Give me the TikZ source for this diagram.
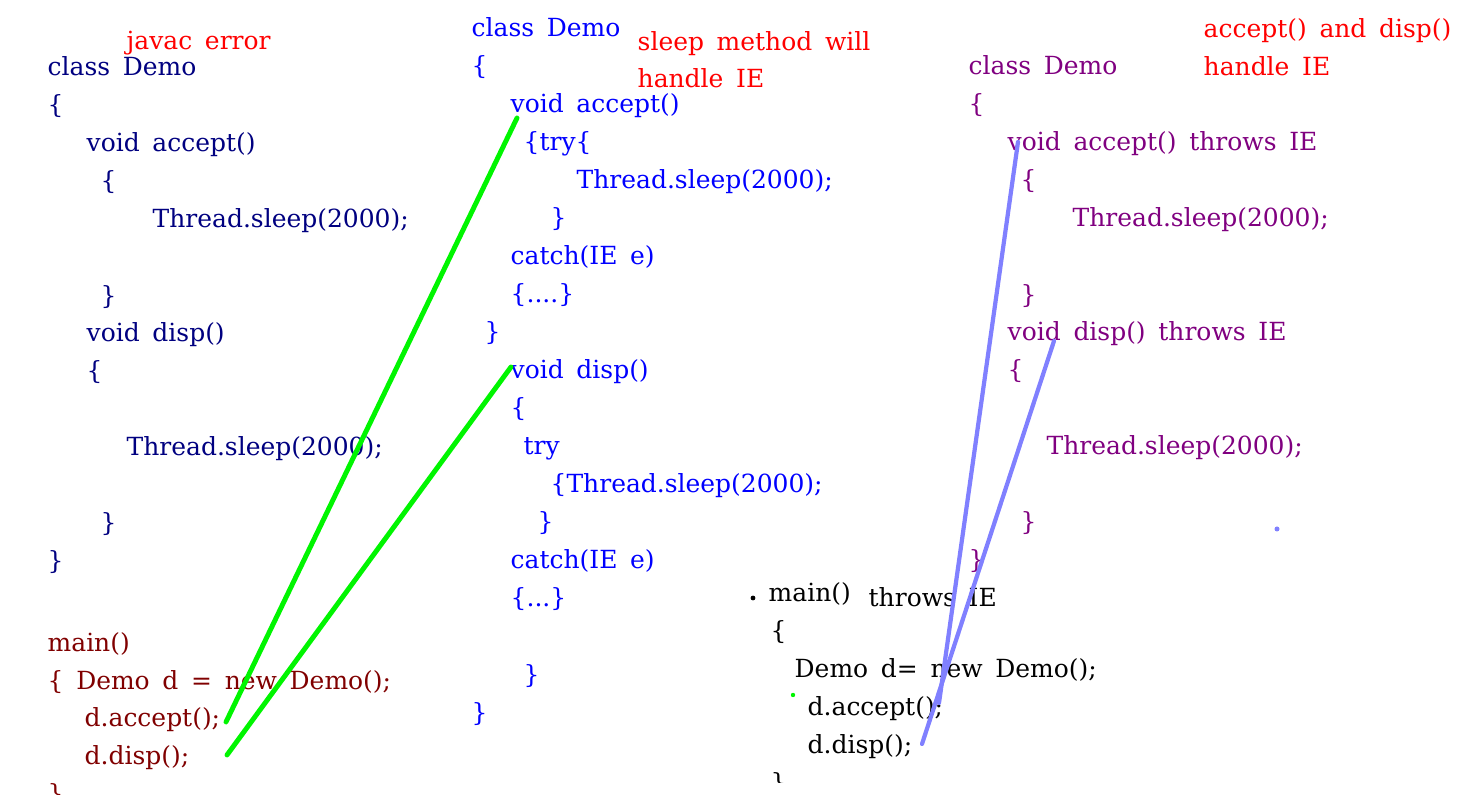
\documentclass[tikz,border=0pt]{standalone}
\usepackage{fontspec}
\setmainfont{DejaVu Serif}[WordSpace=1.6]
\definecolor{navycode}{RGB}{0,0,128}
\definecolor{maincode}{RGB}{128,0,0}
\definecolor{bluecode}{RGB}{0,0,255}
\definecolor{purplecode}{RGB}{128,0,128}
\definecolor{note}{RGB}{255,0,0}
\definecolor{greenlink}{RGB}{0,245,0}
\definecolor{bluelink}{RGB}{128,128,255}
\begin{document}
\begin{tikzpicture}[x=0.01cm, y=-0.01cm,
    code/.style={anchor=base west, inner sep=0pt, font=\fontsize{7.1}{8.5}\selectfont},
    greenline/.style={draw=greenlink, line width=1.4pt, line cap=round},
    blueline/.style={draw=bluelink, line width=1.2pt, line cap=round}]
    \useasboundingbox (0,0) rectangle (1481,795);

    % Left: javac error
    \node[code, note] (lnote) at (126,50) {javac error};
    \node[code, navycode] (l1) at (47,76) {class Demo};
    \node[code, navycode] (l2) at (47,114) {\{};
    \node[code, navycode] (l3) at (86,152) {void accept()};
    \node[code, navycode] (l4) at (100,190) {\{};
    \node[code, navycode] (l5) at (152,228) {Thread.sleep(2000);};
    \node[code, navycode] (l6) at (100,305) {\}};
    \node[code, navycode] (l7) at (86,342) {void disp()};
    \node[code, navycode] (l8) at (86,380) {\{};
    \node[code, navycode] (l9) at (126,456) {Thread.sleep(2000);};
    \node[code, navycode] (l10) at (100,532) {\}};
    \node[code, navycode] (l11) at (47,570) {\}};
    \node[code, maincode] (lm1) at (47,652) {main()};
    \node[code, maincode] (lm2) at (47,690) {\{ Demo d = new Demo();};
    \node[code, maincode] (lm3) at (84,727) {d.accept();};
    \node[code, maincode] (lm4) at (84,765) {d.disp();};
    \node[code, maincode] (lm5) at (47,803) {\}};

    % Middle: try/catch
    \node[code, note] (mnote1) at (637,51) {sleep method will};
    \node[code, note] (mnote2) at (637,88) {handle IE};
    \node[code, bluecode] (m1) at (471,37) {class Demo};
    \node[code, bluecode] (m2) at (471,75) {\{};
    \node[code, bluecode] (m3) at (510,113) {void accept()};
    \node[code, bluecode] (m4) at (523,151) {\{try\{};
    \node[code, bluecode] (m5) at (576,189) {Thread.sleep(2000);};
    \node[code, bluecode] (m6) at (550,227) {\}};
    \node[code, bluecode] (m7) at (510,265) {catch(IE e)};
    \node[code, bluecode] (m8) at (510,303) {\{....\}};
    \node[code, bluecode] (m9) at (484,341) {\}};
    \node[code, bluecode] (m10) at (510,379) {void disp()};
    \node[code, bluecode] (m11) at (510,417) {\{};
    \node[code, bluecode] (m12) at (523,455) {try};
    \node[code, bluecode] (m13) at (550,493) {\{Thread.sleep(2000);};
    \node[code, bluecode] (m14) at (537,531) {\}};
    \node[code, bluecode] (m15) at (510,569) {catch(IE e)};
    \node[code, bluecode] (m16) at (510,607) {\{...\}};
    \node[code, bluecode] (m17) at (523,684) {\}};
    \node[code, bluecode] (m18) at (471,722) {\}};

    % Right: throws IE
    \node[code, note] (rnote1) at (1203,38) {accept() and disp()};
    \node[code, note] (rnote2) at (1203,76) {handle IE};
    \node[code, purplecode] (r1) at (968,75) {class Demo};
    \node[code, purplecode] (r2) at (968,113) {\{};
    \node[code, purplecode] (r3) at (1007,151) {void accept() throws IE};
    \node[code, purplecode] (r4) at (1020,189) {\{};
    \node[code, purplecode] (r5) at (1072,227) {Thread.sleep(2000);};
    \node[code, purplecode] (r6) at (1020,304) {\}};
    \node[code, purplecode] (r7) at (1007,341) {void disp() throws IE};
    \node[code, purplecode] (r8) at (1007,379) {\{};
    \node[code, purplecode] (r9) at (1046,455) {Thread.sleep(2000);};
    \node[code, purplecode] (r10) at (1020,531) {\}};
    \node[code, purplecode] (r11) at (968,569) {\}};

    % Bottom: main() throws IE
    \fill (753,598) circle (2.4);
    \node[code] (b1) at (768,602) {main()};
    \node[code] (b2) at (868,607) {throws IE};
    \node[code] (b3) at (770,640) {\{};
    \node[code] (b4) at (794,678) {Demo d= new Demo();};
    \node[code] (b5) at (807,716) {d.accept();};
    \node[code] (b6) at (807,754) {d.disp();};
    \begin{scope}
        \clip (700,760) rectangle (1140,783);
        \node[code] (b7) at (770,792) {\}};
    \end{scope}
    \fill[greenlink] (793,695) circle (2.2);
    \fill[bluelink] (1277,529) circle (2.5);

    % Link ends
    \coordinate (gAcc) at (517,118);
    \coordinate (gAccCall) at (226,722);
    \coordinate (gDisp) at (511,367);
    \coordinate (gDispCall) at (227,755);
    \coordinate (bAcc) at (1018,142);
    \coordinate (bAccCall) at (939,703);
    \coordinate (bDisp) at (1054,341);
    \coordinate (bDispCall) at (922,744);

    \draw[greenline] (gAcc) -- (gAccCall);
    \draw[greenline] (gDisp) -- (gDispCall);
    \draw[blueline] (bAcc) -- (bAccCall);
    \draw[blueline] (bDisp) -- (bDispCall);
\end{tikzpicture}
\end{document}
